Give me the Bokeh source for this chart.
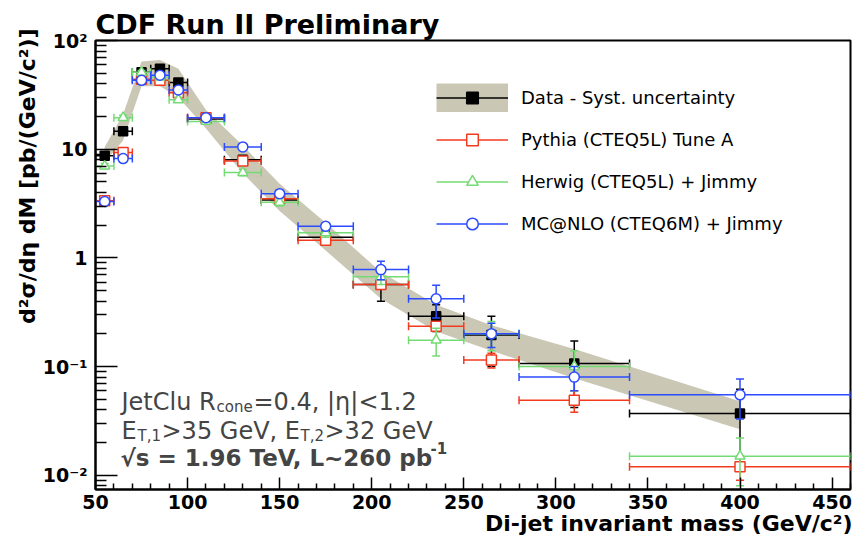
import numpy as np
from bokeh.plotting import figure
from bokeh.models import (Range1d, FixedTicker, Label, Legend, LegendItem,
                          ColumnDataSource, Title)
from bokeh.embed import file_html
from bokeh.resources import INLINE

# ---------------- data ----------------
mass = [55, 65, 75, 85, 95, 110, 130, 150, 175, 205, 235, 265, 310, 400]
half_width = [5, 5, 5, 5, 5, 10, 10, 10, 15, 15, 15, 15, 30, 60]

data = [8.7, 14.6, 51, 55, 41, 19.0, 8.0, 3.4, 1.55, 0.57, 0.29, 0.195, 0.107, 0.037]
data_err = [0.4, 0.8, 2.5, 2.5, 2.0, 0.8, 0.45, 0.25, 0.2, 0.17, 0.08, 0.095, 0.065, 0.025]
syst_low = [7.6, 12.0, 38, 38, 30, 15.5, 6.0, 2.7, 1.17, 0.42, 0.21, 0.14, 0.078, 0.0265]
syst_high = [10.5, 21, 64, 66, 55, 23, 10.8, 4.8, 2.1, 0.74, 0.37, 0.24, 0.145, 0.048]

pythia = [3.35, 9.3, 44, 43, 33, 19.5, 7.8, 3.5, 1.45, 0.57, 0.235, 0.115, 0.049, 0.012]
pythia_err = [0.15, 0.4, 1.5, 1.5, 1.2, 0.6, 0.3, 0.15, 0.08, 0.04, 0.02, 0.018, 0.011, 0.003]
herwig = [7.0, 19.5, 51, 46, 28.5, 18, 6.1, 3.25, 1.7, 0.67, 0.175, 0.2, 0.1, 0.015]
herwig_err = [0.4, 1.0, 2.0, 2.0, 1.5, 0.7, 0.4, 0.25, 0.15, 0.1, 0.05, 0.06, 0.04, 0.007]
mcnlo = [3.3, 8.2, 43, 48, 35, 19.5, 10.5, 3.9, 1.95, 0.78, 0.42, 0.2, 0.08, 0.055]
mcnlo_err = [0.2, 0.5, 2.0, 2.0, 1.5, 0.7, 0.5, 0.3, 0.15, 0.15, 0.14, 0.05, 0.02, 0.022]

x_ticks = [50, 100, 150, 200, 250, 300, 350, 400, 450]
y_ticks = [0.01, 0.1, 1, 10, 100]
y_tick_labels = ["10\u207b\u00b2", "10\u207b\u00b9", "1", "10", "10\u00b2"]

labels = ["Data - Syst. uncertainty", "Pythia (CTEQ5L) Tune A",
          "Herwig (CTEQ5L) + Jimmy", "MC@NLO (CTEQ6M) + Jimmy"]

# ---------------- styling ----------------
BAND = "#CBC7B5"
RED = "#F23A1E"
GREEN = "#74DB74"
BLUE = "#2B4BFF"
FONT = "DejaVu Sans"

X0, X1 = 50, 460
Y0, Y1 = 0.0074, 100

p = figure(width=863, height=546, output_backend="svg", toolbar_location=None,
           y_axis_type="log", x_range=Range1d(X0, X1), y_range=Range1d(Y0, Y1),
           min_border_left=95, min_border_right=13, min_border_top=40, min_border_bottom=57)
p.background_fill_color = "white"
p.border_fill_color = "white"
p.outline_line_color = "black"
p.outline_line_width = 2
p.xgrid.grid_line_color = None
p.ygrid.grid_line_color = None

# title
p.title.text = "CDF Run II Preliminary"
p.title.align = "left"
p.title.offset = 0
p.title.standoff = 2
p.title.vertical_align = "bottom"
p.title.text_font = FONT
p.title.text_font_style = "bold"
p.title.text_font_size = "27px"
p.title.text_color = "black"

# axes
p.xaxis.ticker = FixedTicker(ticks=x_ticks,
                             minor_ticks=[v for v in range(50, 461, 10) if v % 50 != 0])
minor_y = [k * 10.0 ** e for e in range(-3, 2) for k in range(2, 10)]
minor_y = [v for v in minor_y if Y0 < v < Y1]
p.yaxis.ticker = FixedTicker(ticks=y_ticks, minor_ticks=minor_y)
p.yaxis.major_label_overrides = {t: l for t, l in zip(y_ticks, y_tick_labels)}

for ax in (p.xaxis[0], p.yaxis[0]):
    ax.axis_line_width = 2
    ax.axis_line_color = "black"
    ax.major_tick_out = 0
    ax.minor_tick_out = 0
    ax.major_tick_line_color = "black"
    ax.minor_tick_line_color = "black"
    ax.major_tick_line_width = 1.5
    ax.minor_tick_line_width = 1.5
    ax.major_label_text_font = FONT
    ax.major_label_text_font_style = "bold"
    ax.major_label_text_font_size = "19px"
    ax.major_label_text_color = "black"
p.xaxis.major_tick_in = 12
p.xaxis.minor_tick_in = 6
p.xaxis.major_label_standoff = 5
p.yaxis.major_tick_in = 22
p.yaxis.minor_tick_in = 11
p.yaxis.major_label_standoff = 8

# axis titles as side titles (not clipped by the frame)
xtitle = Title(text="Di-jet invariant mass (GeV/c\u00b2)", align="right", offset=-2,
               standoff=-6, text_font=FONT, text_font_style="bold",
               text_font_size="22px", text_color="black")
p.add_layout(xtitle, "below")
ytitle = Title(text="d\u00b2\u03c3/d\u03b7 dM [pb/(GeV/c\u00b2)]", align="right", offset=-12,
               standoff=0, text_font=FONT, text_font_style="bold",
               text_font_size="22px", text_color="black")
p.add_layout(ytitle, "left")

# systematic band
band = p.varea(x=mass, y1=syst_low, y2=syst_high, fill_color=BAND, fill_alpha=1.0)


def draw_series(y, err, color, marker, fill, size, lw):
    x = np.array(mass, float)
    hw = np.array(half_width, float)
    y = np.array(y, float)
    e = np.array(err, float)
    src = ColumnDataSource(dict(x=x, y=y, xl=x - hw, xr=x + hw,
                                lo=np.maximum(y - e, 1e-5), hi=y + e))
    hseg = p.segment(x0="xl", y0="y", x1="xr", y1="y", source=src,
                     line_color=color, line_width=lw)
    p.segment(x0="x", y0="lo", x1="x", y1="hi", source=src,
              line_color=color, line_width=lw)
    for col in ("xl", "xr"):
        p.scatter(x=col, y="y", marker="dash", angle=np.pi / 2, size=8,
                  line_color=color, line_width=lw, source=src)
    for col in ("lo", "hi"):
        p.scatter(x="x", y=col, marker="dash", size=8,
                  line_color=color, line_width=lw, source=src)
    m = p.scatter(x="x", y="y", marker=marker, size=size, line_color=color,
                  fill_color=fill, line_width=lw, source=src)
    return hseg, m


d_line, d_mark = draw_series(data, data_err, "black", "square", "black", 9, 1.5)
p_line, p_mark = draw_series(pythia, pythia_err, RED, "square", "white", 10, 1.5)
h_line, h_mark = draw_series(herwig, herwig_err, GREEN, "triangle", "white", 10, 1.5)
m_line, m_mark = draw_series(mcnlo, mcnlo_err, BLUE, "circle", "white", 10, 1.5)

# legend-only wide bar standing for the band
band_key = p.segment(x0=[np.nan], y0=[np.nan], x1=[np.nan], y1=[np.nan],
                     line_color=BAND, line_width=29, line_cap="butt")

legend = Legend(items=[
    LegendItem(label=labels[0], renderers=[band_key, d_line, d_mark]),
    LegendItem(label=labels[1], renderers=[p_line, p_mark]),
    LegendItem(label=labels[2], renderers=[h_line, h_mark]),
    LegendItem(label=labels[3], renderers=[m_line, m_mark]),
], location=(341, 251))
legend.glyph_width = 72
legend.glyph_height = 29
legend.spacing = 13
legend.padding = 0
legend.margin = 0
legend.label_standoff = 13
legend.border_line_color = None
legend.background_fill_alpha = 0
legend.label_text_font = FONT
legend.label_text_font_size = "18px"
legend.label_text_color = "black"
p.add_layout(legend)


def txt(s, xo, yo, size, bold=False):
    p.add_layout(Label(x=X0, y=Y0, text=s, text_font=FONT, text_font_size=f"{size}px",
                       text_font_style="bold" if bold else "normal",
                       text_baseline="alphabetic", text_align="left",
                       x_offset=xo, y_offset=yo))


# line 1
txt("JetClu R", 26, 88, 24)
txt("cone", 121, 83, 15)
txt("=0.4, |\u03b7|<1.2", 158, 88, 24)
# line 2
txt("E", 26, 59, 24)
txt("T,1", 42, 54, 15)
txt(">35 GeV, E", 66, 59, 24)
txt("T,2", 205, 54, 15)
txt(">32 GeV", 229, 59, 24)
# line 3
txt("\u221as = 1.96 TeV, L~260 pb", 25, 32, 23, bold=True)
txt("-1", 335, 42, 15, bold=True)

open("out.html", "w").write(file_html(p, INLINE))
